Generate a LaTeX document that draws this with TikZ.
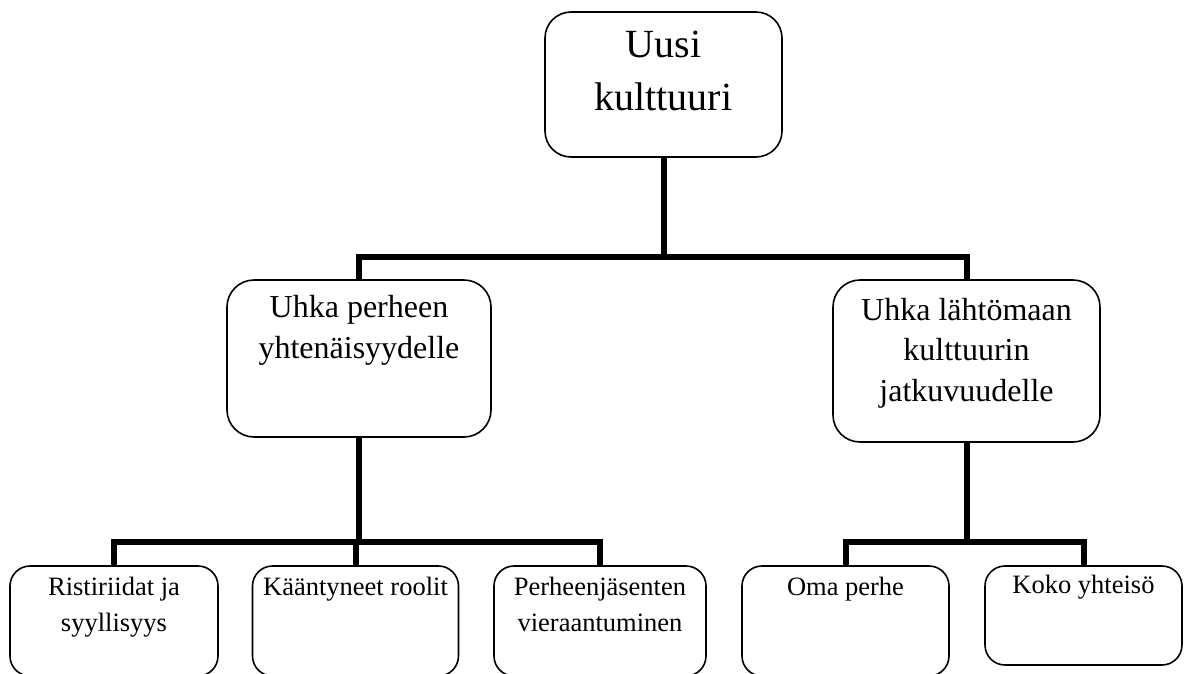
\documentclass[tikz,border=0pt]{standalone}
\usepackage{fontspec}
\setmainfont{Liberation Serif}
\begin{document}
\begin{tikzpicture}[x=1pt,y=-1pt,
  box/.style={draw=black, line width=1.6pt, inner sep=0pt, outer sep=0pt, fill=white},
  conn/.style={draw=black, line width=6pt},
  txt/.style={inner sep=0pt, align=center, anchor=base},
  fbig/.style={font={\fontsize{40}{53}\selectfont}},
  fmid/.style={font={\fontsize{32}{40.5}\selectfont}},
  fsmall/.style={font={\fontsize{26.5}{36}\selectfont}}]
\useasboundingbox (0,0) rectangle (1184,673);
% boxes
\node[box, rounded corners=26pt, minimum width=237pt, minimum height=145pt] (top) at (663.5,84.5) {};
\node[box, rounded corners=27pt, minimum width=264pt, minimum height=157pt] (ml) at (359,358.5) {};
\node[box, rounded corners=27pt, minimum width=267pt, minimum height=162pt] (mr) at (966.5,361) {};
\node[box, rounded corners=20pt, minimum width=208pt, minimum height=110pt] (b1) at (114,621) {};
\node[box, rounded corners=20pt, minimum width=206pt, minimum height=110pt] (b2) at (355.5,621) {};
\node[box, rounded corners=20pt, minimum width=212pt, minimum height=110pt] (b3) at (600,621) {};
\node[box, rounded corners=20pt, minimum width=207pt, minimum height=110pt] (b4) at (845.5,621) {};
\node[box, rounded corners=20pt, minimum width=197pt, minimum height=99pt] (b5) at (1083.5,615.5) {};
% bus coordinates
\coordinate (busA) at (0,257);
\coordinate (busB) at (0,542);
% connectors
\draw[conn] (top.south) -- (top.south |- busA);
\draw[conn] (ml.north) -- (ml.north |- busA) -- (mr.north |- busA) -- (mr.north);
\draw[conn] (ml.south) -- (ml.south |- busB);
\draw[conn] (b1.north) -- (b1.north |- busB) -- (b3.north |- busB) -- (b3.north);
\draw[conn] (b2.north) -- (b2.north |- busB);
\draw[conn] (mr.south) -- (mr.south |- busB);
\draw[conn] (b4.north) -- (b4.north |- busB) -- (b5.north |- busB) -- (b5.north);
% texts (anchor = baseline of the last line)
\node[txt, fbig] (ttop) at (663.5,110) {Uusi\\kulttuuri};
\node[txt, fmid] (tml) at (359,358) {Uhka perheen\\yhtenäisyydelle};
\node[txt, fmid] (tmr) at (966.5,401) {Uhka lähtömaan\\kulttuurin\\jatkuvuudelle};
\node[txt, fsmall] (tb1) at (114,631) {Ristiriidat ja\\syyllisyys};
\node[txt, fsmall] (tb2) at (355.5,595) {Kääntyneet roolit};
\node[txt, fsmall] (tb3) at (600,631) {Perheenjäsenten\\vieraantuminen};
\node[txt, fsmall] (tb4) at (845.5,595) {Oma perhe};
\node[txt, fsmall] (tb5) at (1083.5,593) {Koko yhteisö};
\end{tikzpicture}
\end{document}
